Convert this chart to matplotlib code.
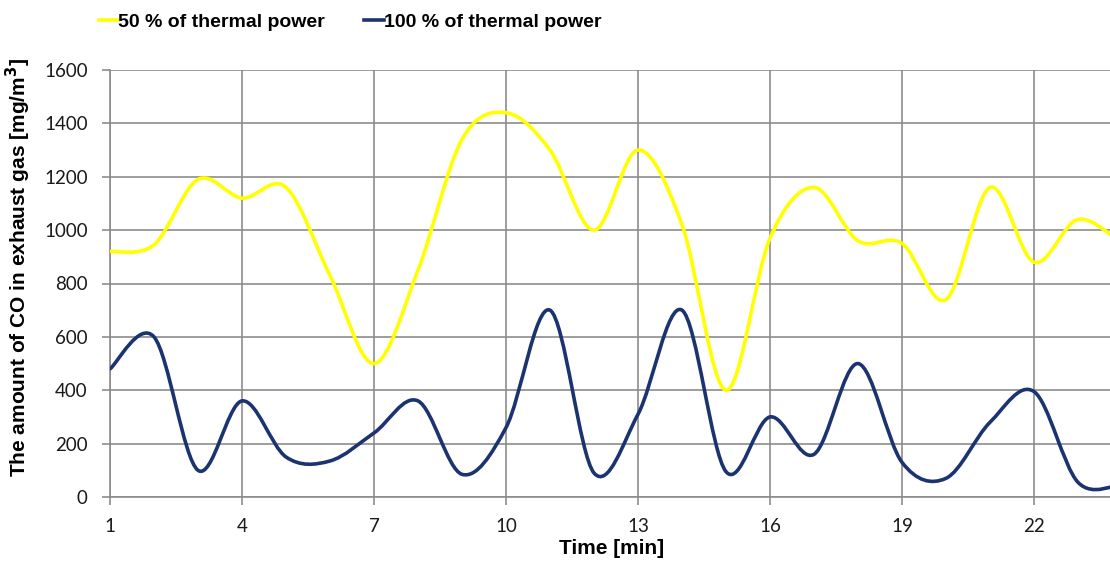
import matplotlib
matplotlib.use("Agg")
import matplotlib.pyplot as plt
from matplotlib.path import Path
from matplotlib.patches import PathPatch
from matplotlib.lines import Line2D

# ---- data ----
minutes = list(range(1, 25))
power_50 = [920, 945, 1190, 1120, 1160, 830, 500, 850, 1340, 1440, 1300, 1000,
            1300, 1020, 400, 970, 1160, 960, 950, 740, 1160, 880, 1040, 950]
power_100 = [480, 600, 100, 360, 150, 135, 240, 360, 85, 260, 700, 90,
             310, 700, 95, 300, 160, 500, 130, 70, 280, 395, 55, 48]
series_names = ["50 % of thermal power", "100 % of thermal power"]
x_ticks = minutes[::3]
y_ticks = list(range(0, 1601, 200))

YELLOW = "#FFFF00"
NAVY = "#1B3470"
GRID = "#8C8C8C"


def smooth_path(xs, ys):
    """Excel-like smoothed line: cubic Bezier segments through the points."""
    n = len(xs)
    verts = [(xs[0], ys[0])]
    codes = [Path.MOVETO]
    for i in range(n - 1):
        i0 = max(i - 1, 0)
        i3 = min(i + 2, n - 1)
        c1 = (xs[i] + (xs[i + 1] - xs[i0]) / 6.0, ys[i] + (ys[i + 1] - ys[i0]) / 6.0)
        c2 = (xs[i + 1] - (xs[i3] - xs[i]) / 6.0, ys[i + 1] - (ys[i3] - ys[i]) / 6.0)
        verts += [c1, c2, (xs[i + 1], ys[i + 1])]
        codes += [Path.CURVE4] * 3
    return Path(verts, codes)


fig = plt.figure(figsize=(11.1, 5.62), dpi=100)
ax = fig.add_axes([110 / 1110, 65 / 562, 1 - 110 / 1110, 427 / 562])

for vals, col in [(power_50, YELLOW), (power_100, NAVY)]:
    patch = PathPatch(smooth_path(minutes, vals), facecolor="none", edgecolor=col,
                      lw=2.6, capstyle="round", joinstyle="round", zorder=3)
    ax.add_patch(patch)

ax.set_xlim(1, 1 + 1000 / 44)
ax.set_ylim(0, 1600)
ax.set_xticks(x_ticks)
ax.set_xticklabels([str(t) for t in x_ticks])
ax.set_yticks(y_ticks)
ax.set_yticklabels([str(t) for t in y_ticks])

ax.grid(True, color=GRID, lw=1.2, zorder=0)
ax.set_axisbelow(True)
for s in ["top", "right"]:
    ax.spines[s].set_visible(False)
for s in ["left", "bottom"]:
    ax.spines[s].set_color(GRID)
    ax.spines[s].set_linewidth(1.2)

ax.tick_params(axis="both", color=GRID, width=1.2, length=6, direction="out",
               labelsize=13.5, labelcolor="#1a1a1a")
ax.tick_params(axis="y", pad=10)
ax.tick_params(axis="x", pad=9)
for lab in ax.get_xticklabels() + ax.get_yticklabels():
    lab.set_family(["Lato", "DejaVu Sans"])

ax.set_xlabel("Time [min]", fontsize=15, fontweight="bold",
              family=["Liberation Sans", "DejaVu Sans"])
ax.set_ylabel("The amount of CO in exhaust gas [mg/m$^\\mathbf{3}$]", fontsize=15,
              fontweight="bold", family=["Liberation Sans", "DejaVu Sans"])
ax.xaxis.set_label_coords((612 - 110) / 1000, -(539 - 497) / 427)
ax.yaxis.set_label_coords(-(110 - 33) / 1000, (497 - 268) / 427)

handles = [Line2D([], [], color=YELLOW, lw=2.6), Line2D([], [], color=NAVY, lw=2.6)]
fig.legend(handles, series_names, loc="center", bbox_to_anchor=(350 / 1110, 1 - 22 / 562),
           ncol=2, frameon=False, handlelength=1.0, handletextpad=0.0, columnspacing=2.0,
           prop={"family": ["Liberation Sans", "DejaVu Sans"], "weight": "bold", "size": 14})

fig.savefig("out.png", dpi=100)
